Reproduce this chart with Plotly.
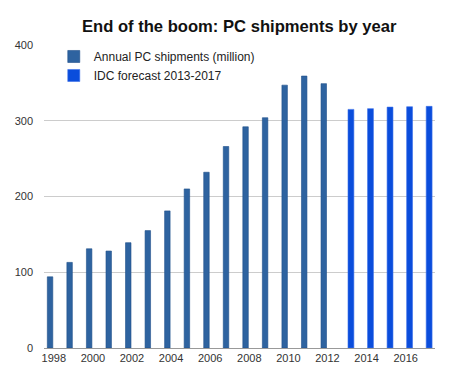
import plotly.graph_objects as go

hist_years = list(range(1998, 2013))
hist_values = [94, 113, 131, 128, 139, 155, 181, 210, 232, 266, 292, 304, 347, 359, 349]
fc_years = list(range(2013, 2018))
fc_values = [315, 316, 318, 318.5, 319]

title = "End of the boom: PC shipments by year"
hist_name = "Annual PC shipments (million)"
fc_name = "IDC forecast 2013-2017"

fig = go.Figure()
fig.add_trace(go.Bar(x=hist_years, y=hist_values, name=hist_name, width=0.28, offset=-0.33,
                     marker=dict(color="#2E63A0", line=dict(color="#1F4F8A", width=0.6))))
fig.add_trace(go.Bar(x=fc_years, y=fc_values, name=fc_name, width=0.3, offset=0.05,
                     marker=dict(color="#0A4DDC", line=dict(color="#3A6EEA", width=0.6))))

fig.update_layout(
    width=460, height=372,
    margin=dict(l=44, r=25, t=45, b=24, autoexpand=False),
    paper_bgcolor="white", plot_bgcolor="white",
    font=dict(family="Liberation Sans, Arial, sans-serif", size=11, color="#333333"),
    title=dict(text="<b>" + title + "</b>", x=0.52, xanchor="center", y=0.93, yanchor="middle",
               font=dict(size=16.6, color="#111111")),
    barmode="overlay",
    showlegend=True,
    legend=dict(x=0.025, y=1.01, xanchor="left", yanchor="top", bgcolor="rgba(0,0,0,0)",
                font=dict(size=12, color="#222222"), tracegroupgap=0, itemwidth=30),
    xaxis=dict(range=[1997.5, 2017.5], tickmode="linear", tick0=1998, dtick=2,
               showgrid=False, showline=True, linecolor="#999999", linewidth=1,
               ticks="", tickfont=dict(size=11), zeroline=False, automargin=False),
    yaxis=dict(range=[0, 400], tickvals=[0, 100, 200, 300, 400], showgrid=True,
               gridcolor="#cccccc", gridwidth=1, zeroline=False, showline=False,
               ticks="", ticklabelstandoff=10, tickfont=dict(size=11), automargin=False),
)
fig.write_html("out.html", config={"displayModeBar": False},
               post_script="document.body.style.margin='0';")
